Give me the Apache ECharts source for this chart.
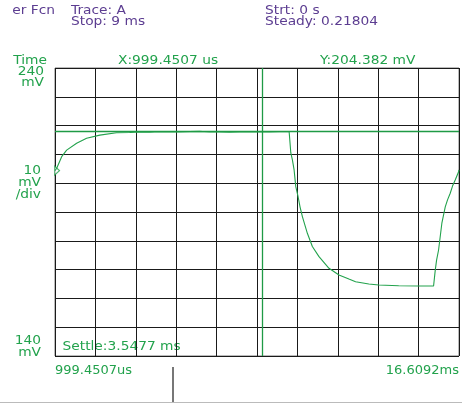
<!DOCTYPE html>
<html>
<head>
<meta charset="utf-8">
<script src="https://cdn.jsdelivr.net/npm/echarts@6/dist/echarts.min.js"></script>
<style>html,body{margin:0;padding:0;background:#fff}#c{width:462px;height:403px}</style>
</head>
<body>
<div id="c"></div>
<script>
// ---- data (time in ms, value in mV) ----
var tStart = 0.9994507;
var tEnd = 16.6092;
var yMin = 140, yMax = 240, yStep = 10;
var steadyLevel = 218.04;
var cursorTime = 9;
var startPoint = [0.9994507, 204.382];
var traceTime = [
  0.9995, 1.065, 1.257, 1.450, 1.835, 2.220, 2.732, 3.374,
  3.886, 4.271, 4.656, 5.041, 5.426, 5.811, 6.196, 6.581, 6.966, 7.351,
  7.736, 8.121, 8.506, 8.891, 9.276, 9.661, 10.046,
  10.111, 10.172, 10.238, 10.303, 10.392, 10.469, 10.558, 10.750, 10.943,
  11.200, 11.586, 11.971, 12.355, 12.613, 13.125, 13.510, 14.280, 15.050, 15.627,
  15.693, 15.743, 15.820, 15.947, 16.078, 16.166, 16.270, 16.359, 16.463, 16.590, 16.609
];
var traceValue = [
  204.38, 205.2, 209.2, 211.5, 213.85, 215.6, 216.7, 217.5,
  217.6, 217.8, 217.7, 217.9, 217.8, 217.8, 217.9, 218.0, 217.8, 217.8,
  217.7, 217.8, 217.9, 217.8, 217.8, 217.9, 217.9,
  210.5, 208.1, 204.6, 198.8, 195.3, 191.7, 188.4, 182.6, 178.0,
  174.5, 170.45, 168.1, 166.7, 165.8, 165.0, 164.65, 164.4, 164.3, 164.3,
  169.9, 173.3, 176.8, 186.1, 191.8, 194.2, 196.5, 199.0, 201.1, 203.9, 204.6
];
var xTickLabels = ['999.4507us', '16.6092ms'];
var yTopLabel = ['240', 'mV'];
var yScaleLabel = ['10', 'mV', '/div'];
var yBottomLabel = ['140', 'mV'];
var headerLeft = ['er Fcn', 'Trace: A', 'Stop: 9 ms'];
var headerRight = ['Strt: 0 s', 'Steady: 0.21804'];
var cursorText = ['Time', 'X:999.4507 us', 'Y:204.382 mV'];
var settleText = 'Settle:3.5477 ms';

// ---- chart ----
var GREEN = '#22a24c';
var PURPLE = '#5c3d91';
var FONT = 'DejaVu Sans';
var tracePts = traceTime.map(function (t, i) { return [t, traceValue[i]]; });

function txt(x, y, s, color, align) {
  return { type: 'text', x: x, y: y, scaleX: 1.06, silent: true,
    style: { text: s, fill: color, font: '13px "' + FONT + '"', align: align || 'left', verticalAlign: 'top' } };
}

var chart = echarts.init(document.getElementById('c'), null, { renderer: 'canvas' });
chart.setOption({
  animation: false,
  backgroundColor: '#fff',
  grid: { left: 55, top: 68, right: 1.5, bottom: 47, show: true, borderColor: '#777', borderWidth: 1, backgroundColor: 'transparent' },
  xAxis: [
    { type: 'value', min: tStart, max: tEnd, show: false },
    { type: 'value', min: 0, max: 10, interval: 1, position: 'bottom',
      axisLine: { show: false }, axisTick: { show: false },
      splitLine: { show: true, lineStyle: { color: '#1a1a1a', width: 1 } },
      axisLabel: { show: true, margin: 8, color: GREEN, fontFamily: FONT, fontSize: 13,
        alignMinLabel: 'left', alignMaxLabel: 'right',
        formatter: function (v) { return v === 0 ? xTickLabels[0] : (v === 10 ? xTickLabels[1] : ''); } } }
  ],
  yAxis: { type: 'value', min: yMin, max: yMax, interval: yStep,
    axisLine: { show: false }, axisTick: { show: false }, axisLabel: { show: false },
    splitLine: { show: true, lineStyle: { color: '#1a1a1a', width: 1 } } },
  series: [
    { type: 'line', xAxisIndex: 0, data: tracePts, showSymbol: false, symbol: 'none',
      lineStyle: { color: GREEN, width: 1.1 },
      markLine: { silent: true, symbol: 'none', label: { show: false },
        lineStyle: { color: '#1f9a45', width: 1.3, type: 'solid', opacity: 1 },
        data: [ { yAxis: steadyLevel }, { xAxis: cursorTime } ] } },
    { type: 'scatter', xAxisIndex: 0, data: [startPoint], symbol: 'triangle', symbolSize: [9, 5],
      symbolRotate: -90, symbolOffset: [2, 0],
      itemStyle: { color: '#fff', borderColor: GREEN, borderWidth: 1 } }
  ],
  graphic: [
    txt(55, 4.5, headerLeft[0], PURPLE, 'right'),
    txt(71, 4.5, headerLeft[1], PURPLE),
    txt(71, 15, headerLeft[2], PURPLE),
    txt(265, 4.5, headerRight[0], PURPLE),
    txt(265, 15, headerRight[1], PURPLE),
    txt(47, 54.5, cursorText[0], GREEN, 'right'),
    txt(118, 54.5, cursorText[1], GREEN),
    txt(320, 54.5, cursorText[2], GREEN),
    txt(44, 65.5, yTopLabel[0], GREEN, 'right'),
    txt(44, 76.5, yTopLabel[1], GREEN, 'right'),
    txt(41, 164.5, yScaleLabel[0], GREEN, 'right'),
    txt(41, 176.5, yScaleLabel[1], GREEN, 'right'),
    txt(41, 188.5, yScaleLabel[2], GREEN, 'right'),
    txt(41, 334.5, yBottomLabel[0], GREEN, 'right'),
    txt(41, 346.5, yBottomLabel[1], GREEN, 'right'),
    txt(62.5, 340.5, settleText, GREEN),
    { type: 'line', silent: true, shape: { x1: 173, y1: 367, x2: 173, y2: 403 }, style: { stroke: '#777', lineWidth: 2 } },
    { type: 'line', silent: true, shape: { x1: 0, y1: 402.5, x2: 462, y2: 402.5 }, style: { stroke: '#bbb', lineWidth: 1 } }
  ]
});
</script>
</body>
</html>
